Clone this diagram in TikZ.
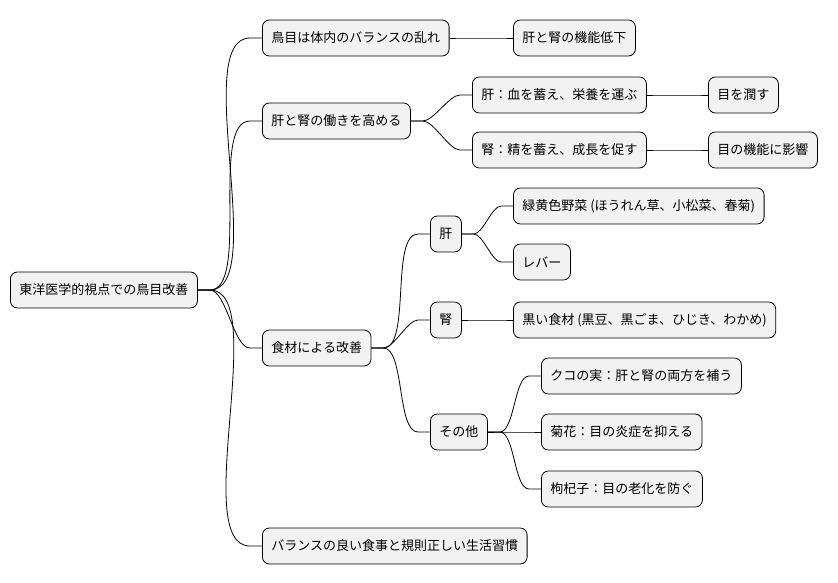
\documentclass[tikz,border=0pt]{standalone}
\usepackage{fontspec}
\setmainfont{Noto Sans CJK JP}
\usetikzlibrary{calc}
\begin{document}
\begin{tikzpicture}[x=1pt,y=-1pt,
  box/.style={draw=black,line width=0.8pt,fill=gray!10,rounded corners=7pt,minimum height=36pt,inner xsep=9pt,anchor=west,font=\fontsize{13pt}{15pt}\selectfont},
  ln/.style={line width=0.8pt}]
\useasboundingbox (0,0) rectangle (838,583);
\node[box] (r) at (10,290) {東洋医学的視点での鳥目改善};
\node[box] (a) at (262,38) {鳥目は体内のバランスの乱れ};
\node[box] (b) at (262,121) {肝と腎の働きを高める};
\node[box] (c) at (262,348) {食材による改善};
\node[box] (d) at (262,546) {バランスの良い食事と規則正しい生活習慣};
\node[box] (a1) at (513,38) {肝と腎の機能低下};
\node[box] (b1) at (472,95) {肝：血を蓄え、栄養を運ぶ};
\node[box] (b2) at (472,150) {腎：精を蓄え、成長を促す};
\node[box] (b11) at (708,95) {目を潤す};
\node[box] (b21) at (708,150) {目の機能に影響};
\node[box] (c1) at (430,234) {肝};
\node[box] (c2) at (430,320) {腎};
\node[box] (c3) at (430,432) {その他};
\node[box] (c11) at (513,206) {緑黄色野菜 (ほうれん草、小松菜、春菊)};
\node[box] (c12) at (513,262) {レバー};
\node[box] (c21) at (513,320) {黒い食材 (黒豆、黒ごま、ひじき、わかめ)};
\node[box] (c31) at (541,376) {クコの実：肝と腎の両方を補う};
\node[box] (c32) at (541,432) {菊花：目の炎症を抑える};
\node[box] (c33) at (541,489) {枸杞子：目の老化を防ぐ};
\foreach \p/\c in {r/a,r/b,r/c,r/d,a/a1,b/b1,b/b2,b1/b11,b2/b21,c/c1,c/c2,c/c3,c1/c11,c1/c12,c2/c21,c3/c31,c3/c32,c3/c33}
  \draw[ln] (\p.east) -- ++(12,0) to[out=0,in=180,looseness=0.6] ($(\c.west)+(-12,0)$) -- (\c.west);
\end{tikzpicture}
\end{document}
